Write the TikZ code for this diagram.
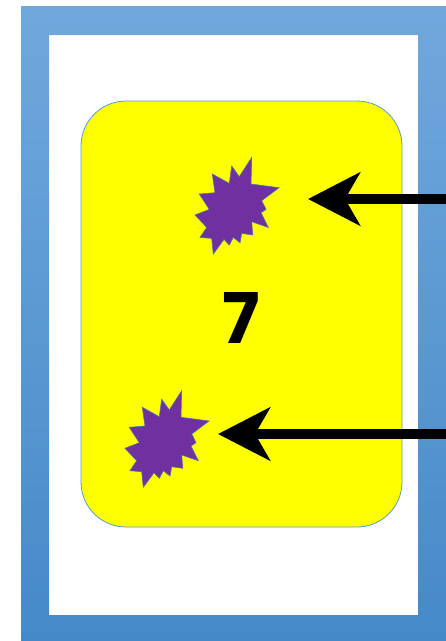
\documentclass[tikz,border=0pt]{standalone}
\usepackage{fontspec}
\usetikzlibrary{arrows.meta}
\newfontfamily\digitfont{Poppins}
\definecolor{frameTop}{HTML}{70A8DC}
\definecolor{frameBot}{HTML}{4689C8}
\definecolor{cardYellow}{HTML}{FFFF00}
\definecolor{cardEdge}{HTML}{5B9BD5}
\definecolor{burstFill}{HTML}{7030A0}
\definecolor{burstEdge}{HTML}{4F6FB0}
\tikzset{
  cardbox/.style={draw=cardEdge, line width=0.8pt, fill=cardYellow, rounded corners=45pt,
    minimum width=321pt, minimum height=426pt, inner sep=0pt},
  arrowline/.style={line width=10pt, draw=black,
    -{Stealth[length=52pt, width=53pt, inset=15pt]}},
  burst/.pic={
    \filldraw[fill=burstFill, draw=burstEdge, line width=0.6pt]
      (14.7,-48.3) -- (14,-21.7) -- (42,-18) -- (24.7,-5) -- (29,3.7) -- (24,7)
      -- (31.3,21.7) -- (14.7,16) -- (15.7,29.3) -- (4.7,27.7) -- (3,37)
      -- (-3.7,31.7) -- (-7.7,39.3) -- (-13,33.7) -- (-23.7,48.3) -- (-25.3,32.7)
      -- (-37,31.7) -- (-30.3,21.7) -- (-42,9.3) -- (-27.7,3.7) -- (-37.7,-11.7)
      -- (-22,-13) -- (-24.7,-31.7) -- (-7.7,-22.3) -- (-5.3,-39.7) -- (2.3,-29) -- cycle;
  }
}
\begin{document}
\begin{tikzpicture}[x=1pt,y=-1pt]
\useasboundingbox (0,0) rectangle (446,641);
\shade[top color=frameTop, bottom color=frameBot, even odd rule]
  (21,6) rectangle (446,643) (49,35) rectangle (418,615);
\node[cardbox] (card) at (241.5,314) {};
\coordinate (burstA) at (237,205.7);
\coordinate (burstB) at (167,439);
\pic at (burstA) {burst};
\pic at (burstB) {burst};
\node[font=\digitfont\bfseries\fontsize{70}{70}\selectfont, inner sep=0pt] (seven) at (241.5,318) {7};
\coordinate (a1s) at (450,199);
\coordinate (a1e) at (308,199);
\coordinate (a2s) at (450,434);
\coordinate (a2e) at (218,434);
\draw[arrowline] (a1s) -- (a1e);
\draw[arrowline] (a2s) -- (a2e);
\end{tikzpicture}
\end{document}
